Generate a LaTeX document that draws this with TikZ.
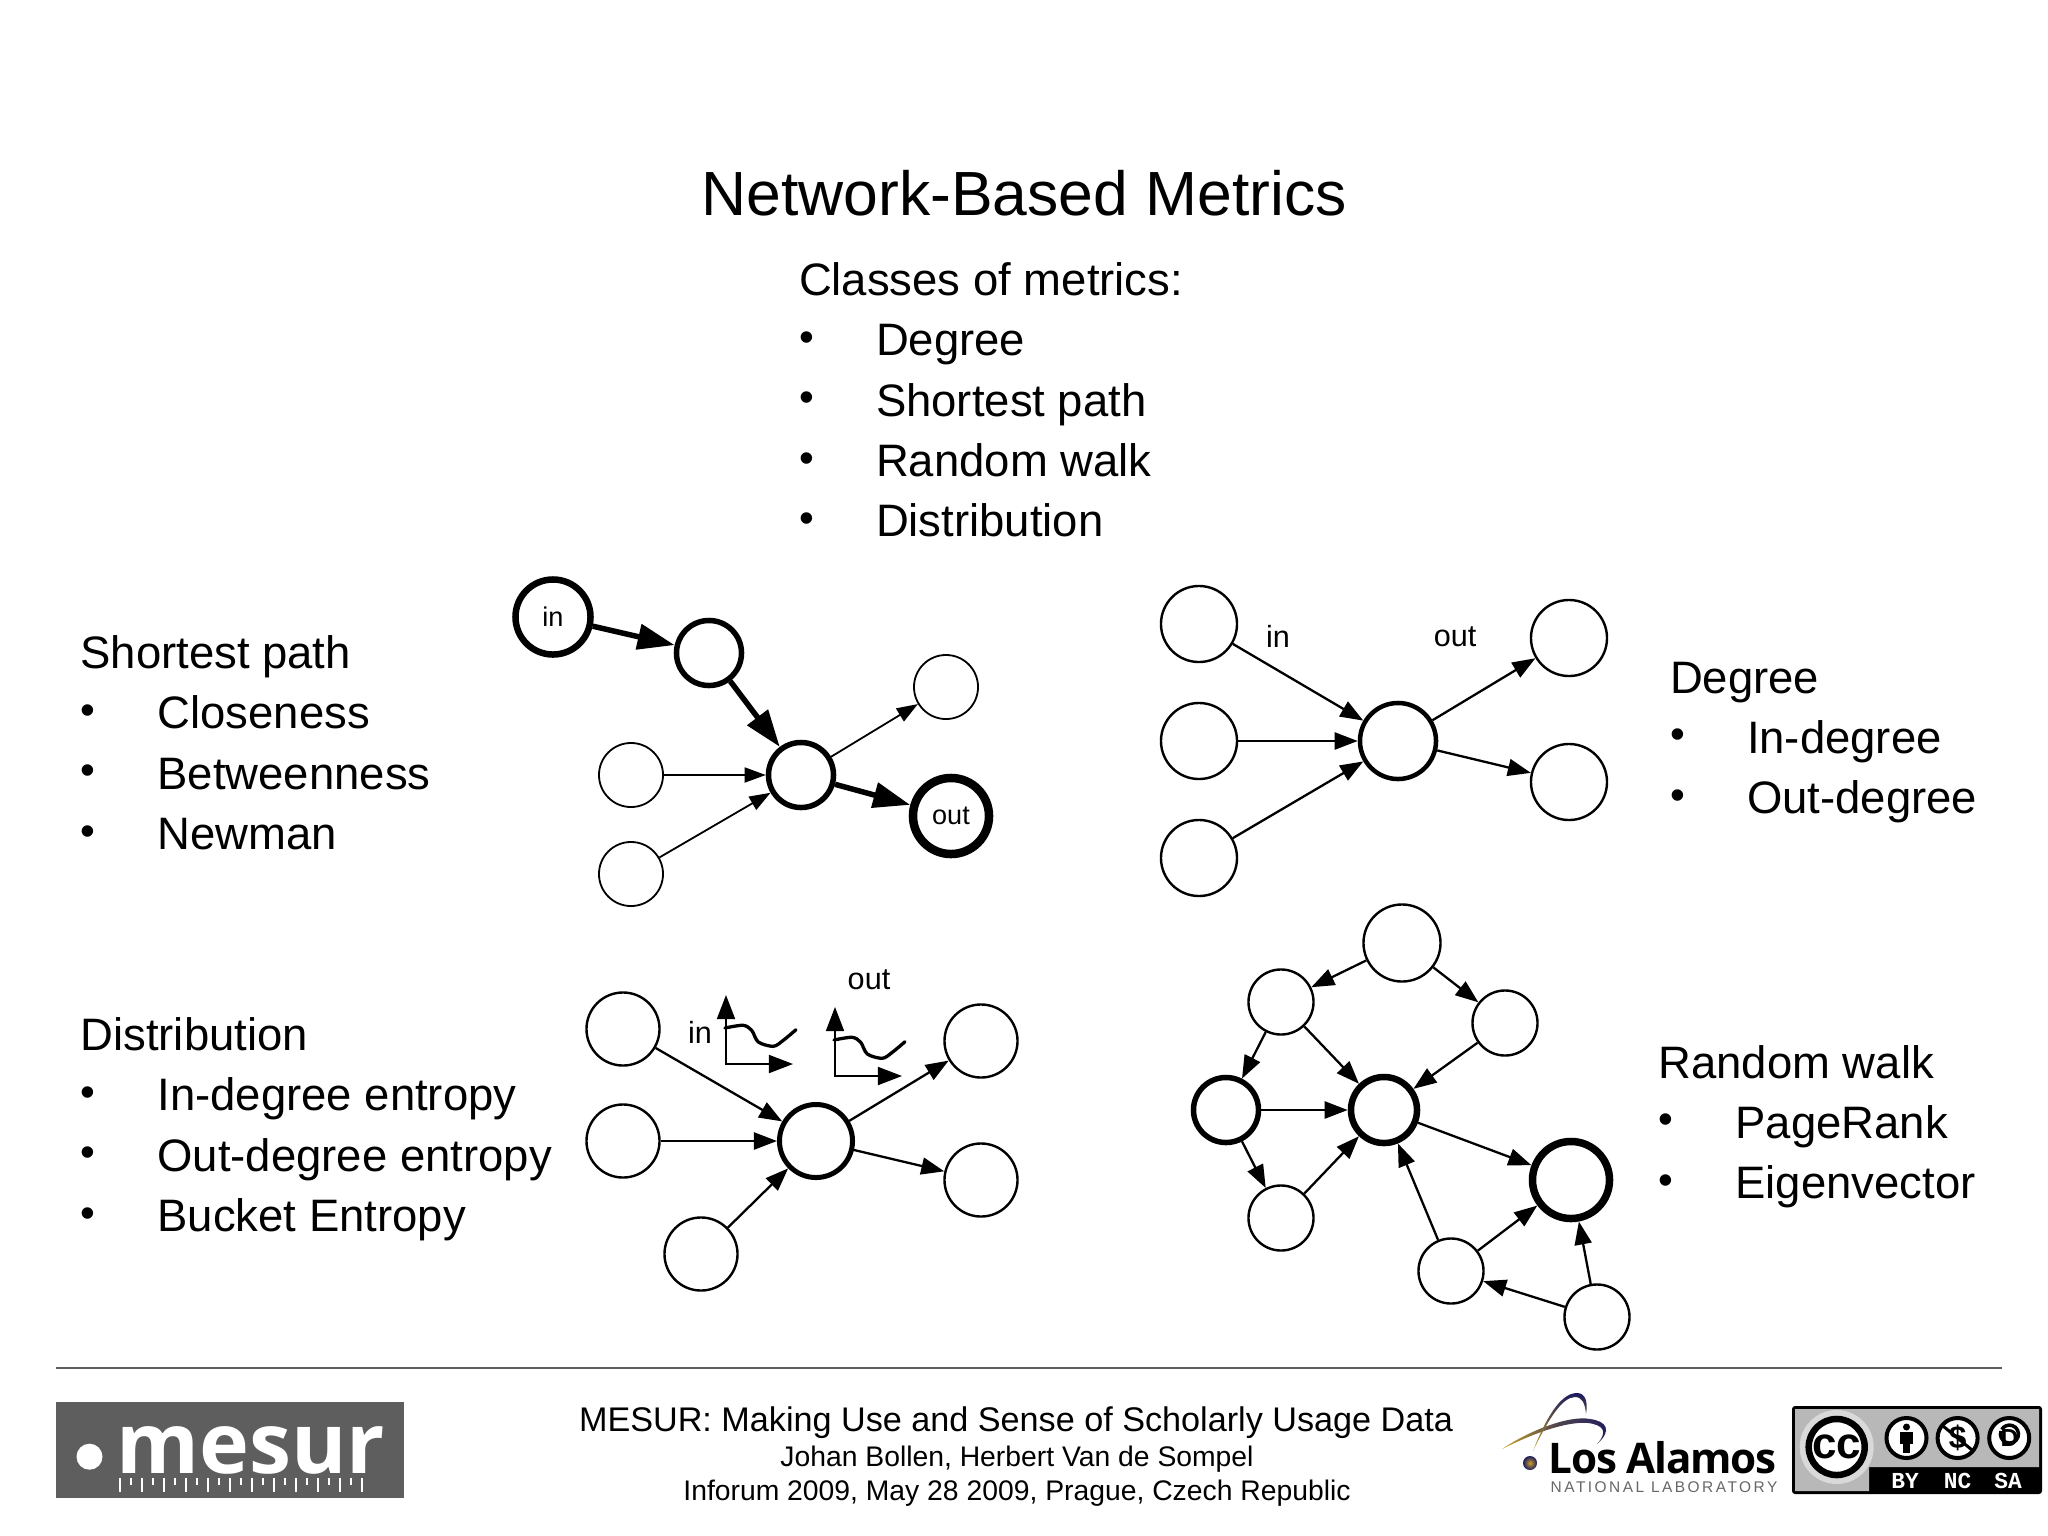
\documentclass[tikz,border=0pt]{standalone}
\usepackage{fontspec}
\setmainfont{Liberation Sans}
\newfontfamily\spacedfont[LetterSpace=16]{Liberation Sans}
\newfontfamily\logofont{Open Sans}
\newfontfamily\lanlfont[LetterSpace=-3]{Open Sans}
\usetikzlibrary{arrows.meta, positioning, shadings}
\newcommand{\fsize}[1]{\fontsize{#1}{#1}\selectfont}
\newcommand{\bul}[1]{\makebox[0.77cm][l]{\raisebox{0.045cm}{\fsize{12}•}}#1}
\definecolor{logogray}{HTML}{5E5E5E}
\definecolor{lanlnavy}{HTML}{1B1A5E}
\definecolor{lanlgold}{HTML}{C9A227}
\tikzset{
    listline/.style={inner sep=0pt, outer sep=0pt, font=\fsize{12.93}, text height=0.42cm, text depth=0.183cm, align=left},
    netnode/.style={circle, draw, fill=white, inner sep=0pt, line width=0.024cm, font=\fsize{8.7}},
    boldnode/.style={netnode, line width=0.055cm},
    plainlabel/.style={inner sep=0pt, font=\fsize{8.7}},
    arrow/.style={-{Triangle[length=0.23cm,width=0.17cm]}, line width=0.023cm},
    smallarrow/.style={-{Triangle[length=0.21cm,width=0.15cm]}, line width=0.018cm},
    heavyarrow/.style={-{Triangle[length=0.37cm,width=0.25cm]}, line width=0.055cm},
    axisarrow/.style={{Triangle[length=0.24cm,width=0.18cm]}-{Triangle[length=0.24cm,width=0.18cm]}, line width=0.018cm},
    footline/.style={inner sep=0pt, anchor=base},
    ccring/.style={circle, draw, fill=white, inner sep=0pt, line width=0.04cm, minimum size=0.4cm},
    cclabel/.style={inner sep=0pt, text=white, font=\fontspec{Liberation Mono}\bfseries\fsize{6.5}},
}
\begin{document}
\begin{tikzpicture}[x=0.01cm, y=-0.01cm]
    \useasboundingbox (0,0) rectangle (2048,1536);

    \node[inner sep=0pt, font=\fsize{17.75}] (title) at (1024,193.5) {Network-Based Metrics};

    % lists
    \node[listline, anchor=north west] (classes) at (799,253.5) {Classes of metrics:};
    \node[listline, below right=0cm and 0cm of classes.south west] (cdeg) {\bul{Degree}};
    \node[listline, below right=0cm and 0cm of cdeg.south west] (cpath) {\bul{Shortest path}};
    \node[listline, below right=0cm and 0cm of cpath.south west] (cwalk) {\bul{Random walk}};
    \node[listline, below right=0cm and 0cm of cwalk.south west] (cdist) {\bul{Distribution}};

    \node[listline, anchor=north west] (sp) at (80.5,626.5) {Shortest path};
    \node[listline, below right=0cm and 0cm of sp.south west] (spa) {\bul{Closeness}};
    \node[listline, below right=0cm and 0cm of spa.south west] (spb) {\bul{Betweenness}};
    \node[listline, below right=0cm and 0cm of spb.south west] (spc) {\bul{Newman}};

    \node[listline, anchor=north west] (dist) at (80.5,1008.5) {Distribution};
    \node[listline, below right=0cm and 0cm of dist.south west] (dista) {\bul{In-degree entropy}};
    \node[listline, below right=0cm and 0cm of dista.south west] (distb) {\bul{Out-degree entropy}};
    \node[listline, below right=0cm and 0cm of distb.south west] (distc) {\bul{Bucket Entropy}};

    \node[listline, anchor=north west] (deg) at (1670,651) {Degree};
    \node[listline, below right=0cm and 0cm of deg.south west] (dega) {\bul{In-degree}};
    \node[listline, below right=0cm and 0cm of dega.south west] (degb) {\bul{Out-degree}};

    \node[listline, anchor=north west] (walk) at (1658.5,1036) {Random walk};
    \node[listline, below right=0cm and 0cm of walk.south west] (walka) {\bul{PageRank}};
    \node[listline, below right=0cm and 0cm of walka.south west] (walkb) {\bul{Eigenvector}};

    % shortest path graph
    \node[netnode, line width=0.065cm, minimum size=0.75cm, font=\fsize{7.7}] (spin) at (553,617) {in};
    \node[boldnode, minimum size=0.65cm] (spmid) at (709,653) {};
    \node[boldnode, minimum size=0.65cm] (sphub) at (801,775) {};
    \node[netnode, line width=0.018cm, minimum size=0.64cm] (spup) at (946,687) {};
    \node[netnode, line width=0.018cm, minimum size=0.64cm] (spl) at (631,775) {};
    \node[netnode, line width=0.018cm, minimum size=0.64cm] (spll) at (631,874) {};
    \node[netnode, line width=0.085cm, minimum size=0.76cm, font=\fsize{7.7}] (spout) at (951,816) {out};
    \draw[heavyarrow] (spin) -- (spmid);
    \draw[heavyarrow] (spmid) -- (sphub);
    \draw[heavyarrow] (sphub) -- (spout);
    \draw[smallarrow] (sphub) -- (spup);
    \draw[smallarrow] (spl) -- (sphub);
    \draw[smallarrow] (spll) -- (sphub);

    % degree graph
    \foreach \name/\px/\py in {dl/1199/624, dm/1199/741, db/1199/858, dru/1569/638, drd/1569/782}
        \node[netnode, minimum size=0.76cm] (\name) at (\px,\py) {};
    \node[netnode, line width=0.045cm, minimum size=0.76cm] (dhub) at (1398,741) {};
    \foreach \from/\to in {dl/dhub, dm/dhub, db/dhub, dhub/dru, dhub/drd}
        \draw[arrow] (\from) -- (\to);
    \node[plainlabel] (din) at (1278,636) {in};
    \node[plainlabel] (dout) at (1455,637) {out};

    % distribution graph
    \foreach \name/\px/\py in {el/623/1029, em/623/1141, eb/701/1254, eru/981/1041, erd/981/1180}
        \node[netnode, minimum size=0.73cm] (\name) at (\px,\py) {};
    \node[netnode, line width=0.05cm, minimum size=0.73cm] (ehub) at (816,1141) {};
    \foreach \from/\to in {el/ehub, em/ehub, eb/ehub, ehub/eru, ehub/erd}
        \draw[arrow] (\from) -- (\to);
    \node[plainlabel] (ein) at (700,1032) {in};
    \node[plainlabel] (eout) at (869,980) {out};
    \foreach \ox/\oy in {726/1064, 835/1076}{
        \begin{scope}[shift={(\ox,\oy)}]
            \coordinate (ytip) at (0,-69);
            \coordinate (xtip) at (67,0);
            \draw[axisarrow] (ytip) -- (0,0) -- (xtip);
            \draw[line width=0.033cm, line cap=round] plot[smooth] coordinates {(-1,-36) (17,-38.7) (25.7,-33.7) (32.3,-22) (47.3,-17.7) (57.3,-23.7) (70,-34.3)};
        \end{scope}
    }

    % random walk graph
    \node[netnode, minimum size=0.77cm] (rtop) at (1402,943) {};
    \foreach \name/\px/\py in {ra/1281/1002, rb/1505/1023, re/1281/1218, rg/1451/1271, rh/1597/1317}
        \node[netnode, minimum size=0.65cm] (\name) at (\px,\py) {};
    \node[boldnode, minimum size=0.65cm] (rc) at (1226,1110) {};
    \node[netnode, line width=0.065cm, minimum size=0.66cm] (rd) at (1384,1110) {};
    \node[netnode, line width=0.075cm, minimum size=0.77cm] (rf) at (1571,1180) {};
    \foreach \from/\to in {rtop/ra, rtop/rb, ra/rc, ra/rd, rb/rd, rc/rd, rc/re, re/rd, rd/rf, rg/rd, rg/rf, rh/rg, rh/rf}
        \draw[arrow] (\from) -- (\to);

    % footer
    \draw[draw=logogray, line width=0.02cm] (56,1367.5) -- (2002,1367.5);
    \node[footline] (foota) at (1016,1431.5) {\fsize{9.72}MESUR: Making Use and Sense of Scholarly Usage Data};
    \node[footline] (footb) at (1017,1466.5) {\fsize{8.05}Johan Bollen, Herbert Van de Sompel};
    \node[footline] (footc) at (1017,1500.5) {\fsize{8.05}Inforum 2009, May 28 2009, Prague, Czech Republic};

    % mesur logo
    \fill[logogray] (56,1402) rectangle (404,1498);
    \fill[white] (89.5,1456.7) circle (13);
    \node[inner sep=0pt, anchor=base west, text=white, font=\logofont\bfseries\fsize{24}] (mesur) at (116,1473) {mesur};
    \foreach \i in {0,...,22}{
        \pgfmathsetmacro{\tickx}{119.5+\i*11}
        \pgfmathsetmacro{\ticky}{isodd(\i) ? 1485 : 1492}
        \draw[white, line width=0.02cm] (\tickx,1478) -- (\tickx,\ticky);
    }

    % los alamos logo
    \shade[left color=lanlgold, right color=lanlnavy, middle color=lanlnavy!70!lanlgold]
        (1502,1449) .. controls (1530,1430) and (1570,1415) .. (1590,1419)
        .. controls (1606,1421) and (1613,1430) .. (1597,1444)
        .. controls (1608,1432) and (1604,1425) .. (1588,1423)
        .. controls (1565,1421) and (1530,1435) .. (1502,1449);
    \shade[top color=lanlnavy, bottom color=lanlgold]
        (1533,1451) .. controls (1545,1420) and (1560,1393) .. (1577,1393)
        .. controls (1586,1393) and (1588,1403) .. (1586,1414)
        .. controls (1585,1403) and (1582,1397) .. (1575,1397)
        .. controls (1562,1397) and (1548,1420) .. (1533,1451);
    \shade[inner color=lanlgold, outer color=lanlnavy] (1530,1463) circle (7);
    \node[inner sep=0pt, anchor=base west, font=\lanlfont\bfseries\fsize{12}] (lanl) at (1548,1473) {Los Alamos};
    \node[inner sep=0pt, anchor=base west, text=black!60, font=\spacedfont\fsize{4.4}] (lab) at (1550,1492.5) {NATIONAL LABORATORY};

    % cc badge
    \fill[black, rounded corners=0.03cm] (1792,1406) rectangle (2042,1494);
    \fill[black!28] (1795,1409) -- (2039,1409) -- (2039,1467) -- (1869,1467) -- (1869,1491) -- (1795,1491) -- cycle;
    \fill[black!15] (1836.7,1447) circle (37);
    \node[circle, draw, fill=white, inner sep=0pt, line width=0.065cm, minimum size=0.56cm, font=\bfseries\fsize{12.5}] (ccmain) at (1836.7,1447) {cc};
    \node[ccring] (ccby) at (1906.5,1438) {};
    \node[ccring, font=\bfseries\fsize{9}] (ccnc) at (1957.6,1438) {\$};
    \node[ccring] (ccsa) at (2009.2,1438) {};
    \fill[black] (1906.5,1427) circle (3.5);
    \fill[black] (1900,1432) rectangle (1913,1444);
    \fill[black] (1903,1444) rectangle (1910,1453);
    \draw[line width=0.03cm] (1943,1426) -- (1972,1450);
    \draw[line width=0.035cm] (2001,1431) arc (200:-150:9);
    \node[inner sep=0pt, font=\bfseries\fsize{7}] (ccd) at (2009.5,1438) {D};
    \node[cclabel] (byl) at (1905,1481) {BY};
    \node[cclabel] (ncl) at (1957.6,1481) {NC};
    \node[cclabel] (sal) at (2008,1481) {SA};
\end{tikzpicture}
\end{document}
